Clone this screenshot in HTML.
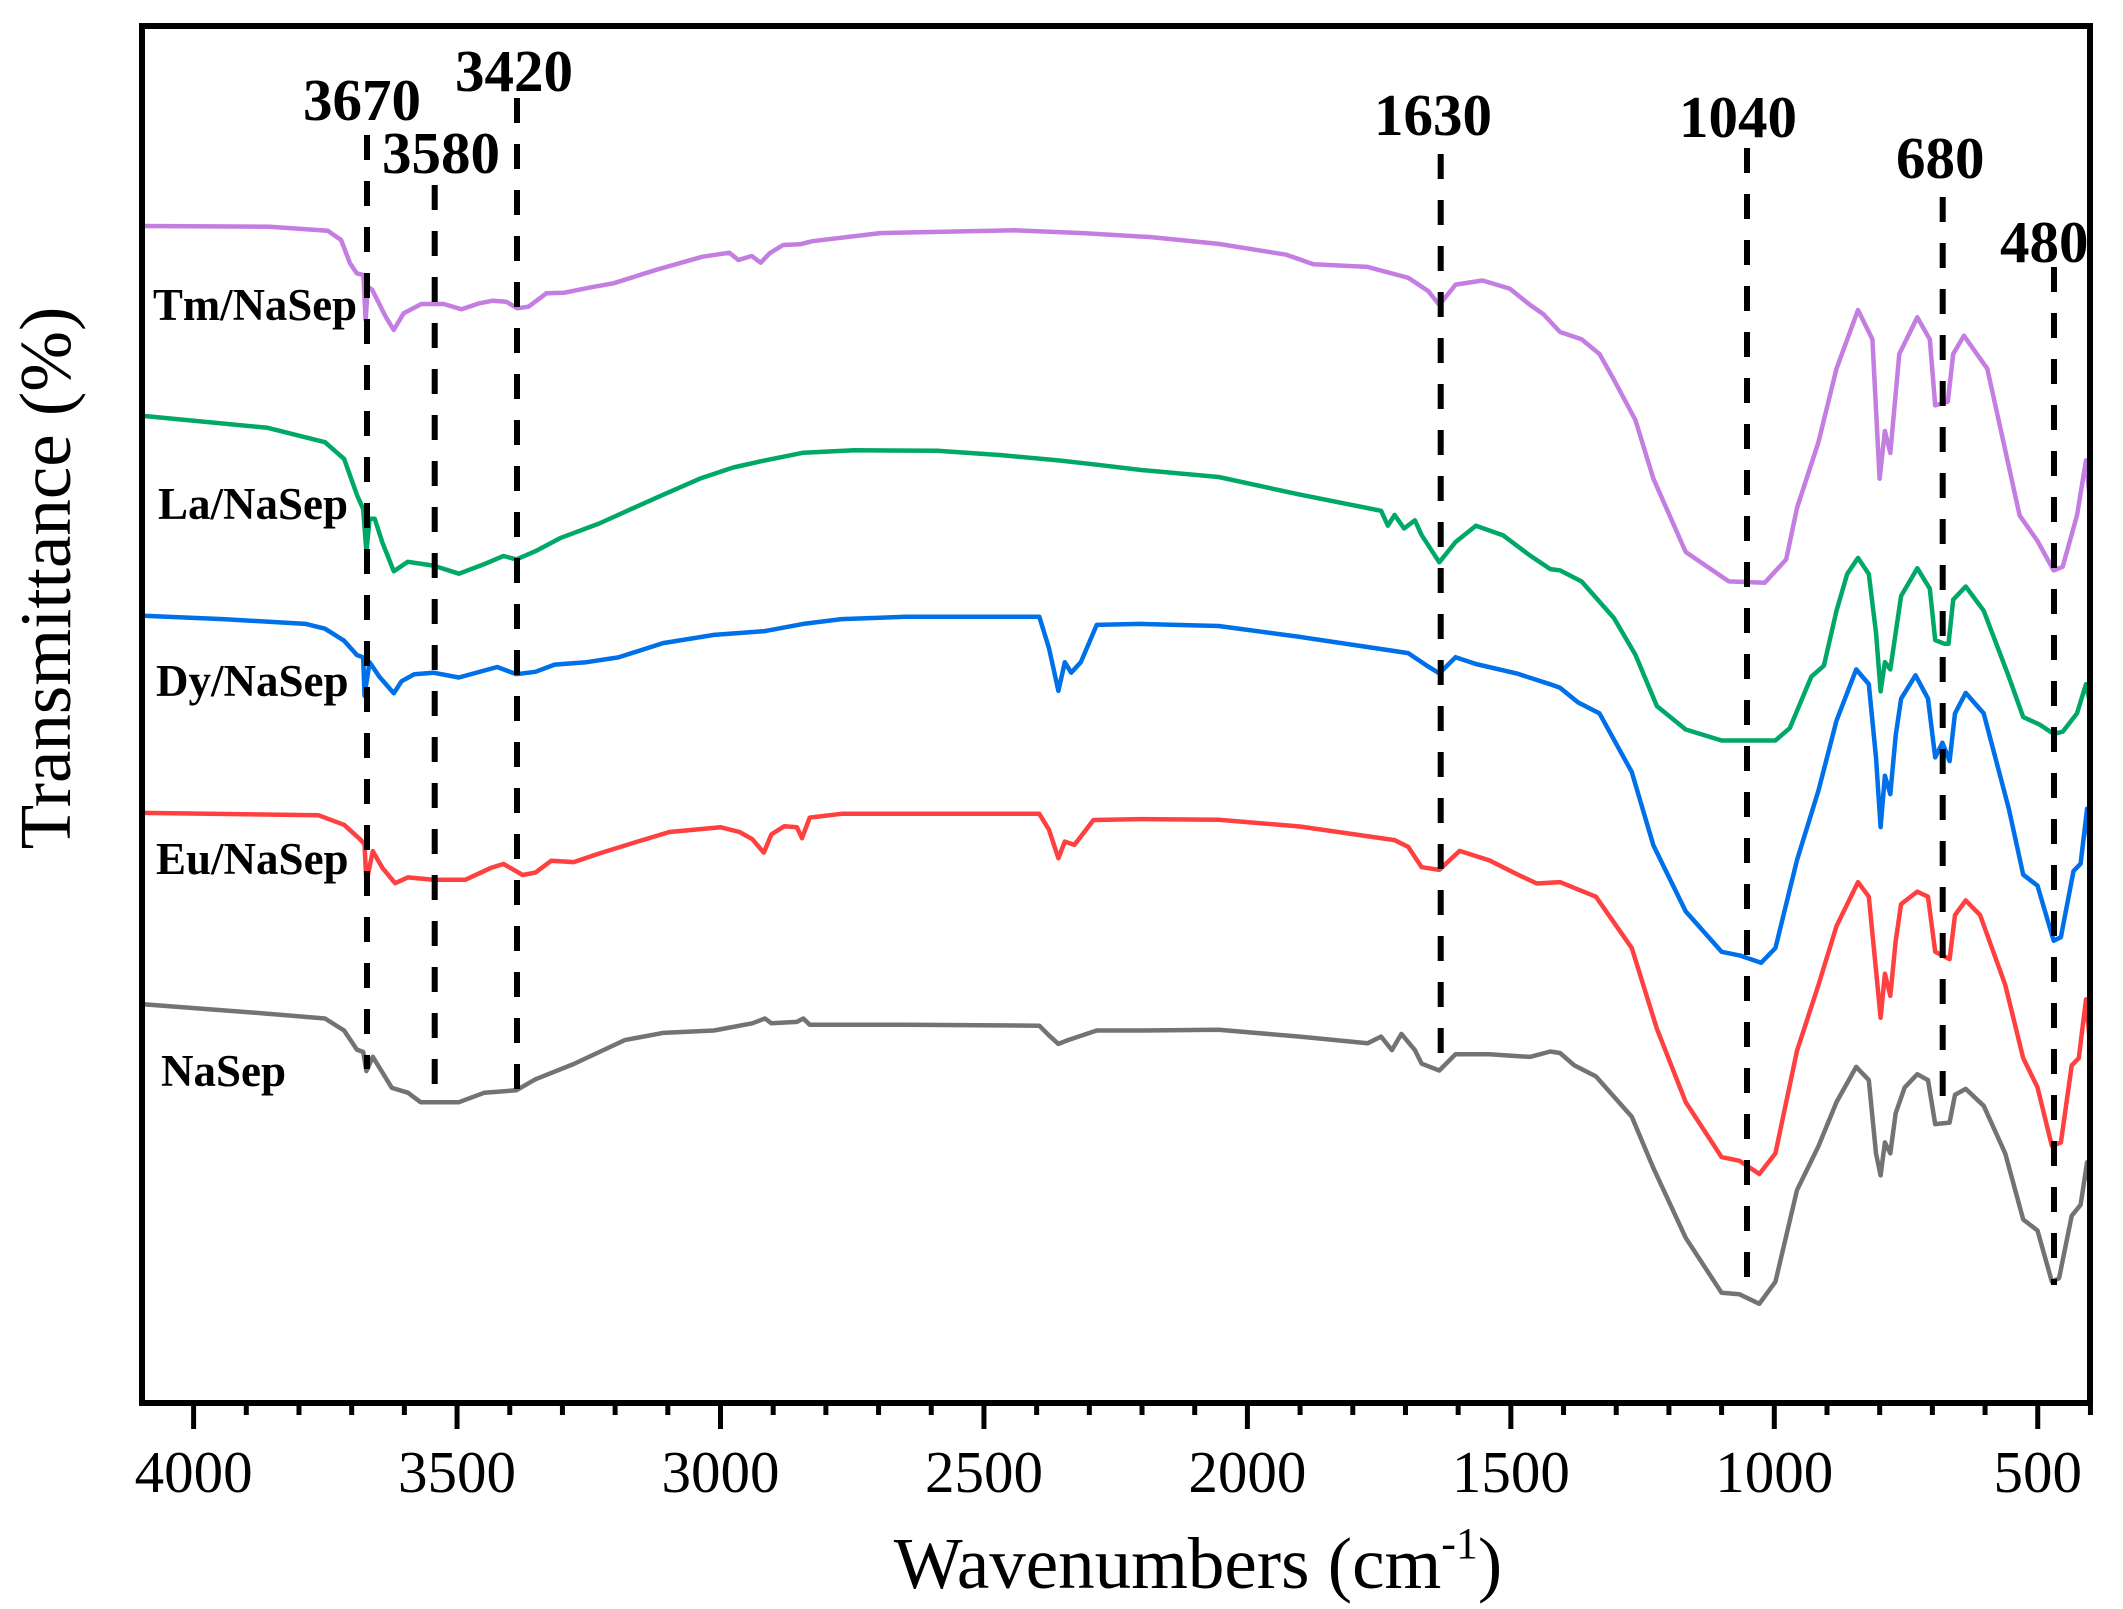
<!DOCTYPE html>
<html><head><meta charset="utf-8">
<style>
html,body{margin:0;padding:0;background:#fff;}
svg{display:block;}
text{font-family:"Liberation Serif","Times New Roman",serif;fill:#000;}
.pk{font-weight:bold;font-size:59px;}
.lb{font-weight:bold;font-size:45px;}
.tk{font-size:59px;}
</style></head>
<body>
<svg id="s" xmlns="http://www.w3.org/2000/svg" width="2123" height="1609" viewBox="0 0 2123 1609">
<rect x="0" y="0" width="2123" height="1609" fill="#fff"/>
<g id="curves" fill="none" stroke-width="4.5" stroke-linejoin="round" stroke-linecap="round"></g>
<g id="dash" stroke="#000" stroke-width="6" stroke-dasharray="25 21"></g>
<rect x="142" y="26" width="1948" height="1377" fill="none" stroke="#000" stroke-width="6"/>
<g id="ticks" stroke="#000" stroke-width="5"></g>
<g id="ticklabels"></g>
<text class="pk" x="303" y="120">3670</text>
<text class="pk" x="382" y="173">3580</text>
<text class="pk" x="455" y="91">3420</text>
<text class="pk" x="1374" y="135">1630</text>
<text class="pk" x="1679" y="137">1040</text>
<text class="pk" x="1896" y="178">680</text>
<text class="pk" x="2000" y="262">480</text>
<text class="lb" x="153" y="320" textLength="204" lengthAdjust="spacingAndGlyphs">Tm/NaSep</text>
<text class="lb" x="158" y="519">La/NaSep</text>
<text class="lb" x="156" y="696">Dy/NaSep</text>
<text class="lb" x="156" y="874">Eu/NaSep</text>
<text class="lb" x="161" y="1086">NaSep</text>
<text x="1198" y="1588" text-anchor="middle" font-size="73">Wavenumbers (cm<tspan font-size="44" dy="-30">-1</tspan><tspan dy="30">)</tspan></text>
<text x="0" y="0" font-size="73" text-anchor="middle" transform="translate(70,578) rotate(-90)">Transmittance (%)</text>
</svg>
<script>
var NS="http://www.w3.org/2000/svg";
function C(x,y){return [100+x*0.4464,y/3];}
function A(x,y){return [140+x*0.6378,380+y*0.4783];}
function B(x,y){return [1560+x*0.35906,200+y*0.73342];}
function T(x,y){return [x*1.354,y*1.355];}
function build(spec){var out=[];spec.forEach(function(seg){var f=seg[0],p=seg[1];for(var i=0;i<p.length;i+=2){out.push(f(p[i],p[i+1]));}});return out;}
function addLine(pts,color){var pl=document.createElementNS(NS,"polyline");pl.setAttribute("points",pts.map(function(q){return q[0].toFixed(1)+","+q[1].toFixed(1);}).join(" "));pl.setAttribute("stroke",color);document.getElementById("curves").appendChild(pl);}
var purple=build([
[C,[95,678,380,680,510,692,540,720,560,790,575,820,590,825,595,960,600,860,610,870,640,950,658,990,680,940,720,912,750,912,770,912,810,928,850,910,880,902,910,905,935,925,960,920,1000,880,1040,878,1100,862,1150,850,1250,808,1350,770,1410,758,1430,780,1460,768,1480,788,1500,760,1530,735,1568,733]],
[T,[600,178,650,172,750,170,800,172,850,175,900,180,950,188,970,195,1010,197,1040,205,1055,215,1063,225,1075,210,1095,207,1115,213,1130,225,1140,232]],
[B,[0,180,60,190,110,210,150,245,210,300,260,380,350,480,470,520,570,522,630,490,660,420,720,330,770,230,830,150,870,190,890,380,905,315,920,345,945,210,995,160,1030,190,1045,280,1080,275,1095,210,1125,185,1190,230,1280,430,1330,465,1375,505,1400,500,1440,430,1465,355,1478,420]]
]);
var green=build([
[A,[5,75,200,100,290,130,320,165,340,240,350,270,355,360,360,290,368,290,380,340,398,400,420,380,460,388,500,405,540,385,570,368,590,375,620,358,660,330,720,300,770,270,820,240,880,205,930,183,980,168,1040,152,1120,147,1250,148,1350,157,1440,168,1500,177,1568,188]],
[T,[900,352,960,365,1010,375,1020,377,1025,388,1030,380,1037,390,1045,384,1050,395,1063,415,1075,400,1090,388,1110,395,1130,410,1145,420]],
[B,[0,505,60,520,150,570,210,620,270,690,350,722,450,737,600,737,640,720,700,650,735,635,770,560,800,510,830,488,860,510,880,590,893,670,905,630,920,640,935,590,950,540,995,502,1030,530,1045,600,1070,605,1082,605,1095,545,1130,527,1180,560,1250,650,1290,705,1335,715,1375,728,1400,725,1440,700,1465,660,1478,690]]
]);
var blue=build([
[A,[5,493,130,500,260,510,290,520,320,545,340,575,350,580,352,660,360,590,375,620,398,655,410,630,430,615,460,612,500,622,560,600,590,615,620,610,650,595,700,590,750,580,820,550,900,533,980,525,1040,510,1100,500,1200,495,1410,495,1425,560,1440,650,1450,590,1460,612,1475,590,1500,512,1568,510]],
[T,[900,462,960,470,1000,476,1040,482,1055,492,1063,497,1075,485,1090,490,1120,497,1145,505]],
[B,[0,665,50,685,110,700,200,780,260,880,350,970,450,1025,500,1030,560,1040,600,1020,660,900,720,805,770,710,825,640,860,660,880,760,893,855,905,785,920,810,935,730,950,680,990,648,1025,680,1045,760,1065,740,1085,765,1100,700,1130,672,1180,700,1250,830,1290,920,1330,935,1375,1010,1395,1005,1430,915,1450,905,1468,830,1478,900]]
]);
var red=build([
[A,[5,905,280,910,320,930,345,960,352,970,355,1050,365,985,380,1020,400,1052,420,1040,460,1045,510,1045,550,1020,570,1012,600,1035,620,1030,645,1005,680,1008,720,990,780,965,830,945,910,935,940,945,960,960,978,988,990,950,1010,933,1030,935,1038,958,1050,915,1100,907,1410,907,1425,940,1440,1000,1450,965,1465,972,1495,920,1568,918]],
[T,[900,605,960,610,1030,620,1040,625,1050,640,1063,642,1078,628,1100,635,1120,645,1135,652]],
[B,[0,930,50,940,100,950,200,1020,270,1130,350,1230,450,1305,500,1310,555,1328,600,1300,660,1160,720,1070,770,990,830,930,860,950,880,1050,893,1115,905,1055,920,1085,935,1010,950,960,995,943,1025,950,1045,1025,1085,1035,1100,975,1130,955,1170,975,1240,1070,1290,1170,1330,1210,1370,1290,1395,1285,1425,1180,1445,1170,1465,1090,1478,1160]]
]);
var gray=build([
[A,[5,1305,200,1325,290,1335,320,1360,340,1400,350,1405,355,1445,365,1415,395,1480,420,1490,440,1510,500,1510,540,1490,590,1485,620,1462,680,1430,760,1380,820,1365,900,1360,960,1345,980,1335,990,1345,1030,1342,1040,1335,1050,1348,1200,1348,1410,1350,1425,1370,1440,1388,1455,1380,1500,1360,1568,1360]],
[T,[900,760,960,765,1010,770,1020,765,1028,775,1035,763,1045,775,1050,785,1063,790,1075,778,1100,778,1130,780,1145,776]],
[B,[0,1163,40,1180,100,1195,200,1250,260,1320,350,1415,450,1490,500,1492,555,1505,600,1475,660,1350,720,1290,770,1230,825,1182,860,1200,880,1300,893,1330,905,1285,920,1300,935,1245,960,1210,995,1192,1025,1200,1045,1260,1085,1258,1100,1220,1130,1212,1180,1235,1240,1300,1290,1390,1330,1405,1370,1475,1390,1470,1425,1385,1450,1370,1468,1312,1478,1355]]
]);
addLine(gray,"#737373");
addLine(red,"#ff4040");
addLine(blue,"#0070e8");
addLine(green,"#00a868");
addLine(purple,"#c47de0");
// dashed lines
[[367,135,1069],[434.7,185,1102],[517,98,1093],[1440.7,154,1071],[1747,148,1296],[1942.7,197,1113],[2054,267,1285]].forEach(function(d){
 var l=document.createElementNS(NS,"line");l.setAttribute("x1",d[0]);l.setAttribute("x2",d[0]);l.setAttribute("y1",d[1]);l.setAttribute("y2",d[2]);document.getElementById("dash").appendChild(l);});
// ticks
function X(w){return 193.6+(4000-w)*0.5269;}
for(var w=400;w<=4100;w+=100){var x=X(w);if(x<141||x>2092)continue;var l=document.createElementNS(NS,"line");l.setAttribute("x1",x);l.setAttribute("x2",x);l.setAttribute("y1",1403);l.setAttribute("y2",(w%500==0)?1429:1415);document.getElementById("ticks").appendChild(l);
 if(w%500==0){var t=document.createElementNS(NS,"text");t.setAttribute("x",x);t.setAttribute("y",1492);t.setAttribute("text-anchor","middle");t.setAttribute("class","tk");t.textContent=w;document.getElementById("ticklabels").appendChild(t);}}
</script>
</body></html>
